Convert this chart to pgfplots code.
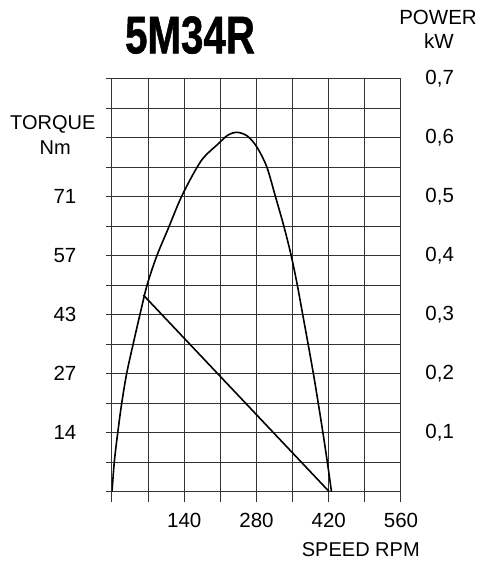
\documentclass[border=0pt]{standalone}
\usepackage{fontspec}
\setmainfont{Liberation Sans}
\newfontfamily\titlefont{Liberation Sans}[UprightFont={* Bold}, UprightFeatures={FakeBold=1.2}]
\usepackage{pgfplots}
\pgfplotsset{compat=1.18}
\definecolor{gridc}{gray}{0.2}

\pgfplotstableread{
rpm kw
0 0
4.5 0.0508
11.0 0.0990
18.8 0.1498
28.5 0.2007
41.3 0.2515
56.2 0.3080
68.0 0.3503
86.2 0.3983
109.1 0.4464
136.2 0.5029
172.5 0.5605
205.4 0.5893
224.8 0.6045
242.8 0.6091
262.2 0.6029
280.4 0.5847
299.8 0.5508
316.8 0.5000
333.3 0.4491
347.4 0.3995
359.1 0.3503
369.7 0.2995
380.0 0.2503
390.1 0.2007
399.7 0.1498
408.9 0.0990
417.6 0.0481
425.3 0
}\powerdata

\pgfplotstableread{
rpm kw
60.7 0.3334
421 0
}\torquedata

\pgfplotsset{
  base/.style={
    at={(0pt,0pt)}, anchor=south west,
    scale only axis, width=289pt, height=413pt,
    xmin=0, xmax=560, ymin=0, ymax=0.7,
    axis line style={gridc, line width=1pt},
    tick align=outside,
    tick label style={font=\fontsize{20.5}{24}\selectfont},
  }
}

\begin{document}
\begin{tikzpicture}
% grid, x ticks, curves
\begin{axis}[base,
    xtick={0,70,140,210,280,350,420,490,560},
    xticklabels={,,140,,280,,420,,560},
    ytick={0,0.05,0.1,0.15,0.2,0.25,0.3,0.35,0.4,0.45,0.5,0.55,0.6,0.65,0.7},
    yticklabels={},
    ytick style={draw=none},
    xtick pos=bottom,
    major tick length=10pt,
    xtick style={gridc, line width=1pt},
    xticklabel style={anchor=base, inner sep=0pt, yshift=-26pt},
    grid=major,
    grid style={gridc, line width=1pt},
]
\addplot[black, line width=1.6pt, smooth] table[x=rpm, y=kw] {\powerdata};
\addplot[black, line width=1.6pt] table[x=rpm, y=kw] {\torquedata};
\end{axis}
% torque ticks on the left
\begin{axis}[base,
    xtick=\empty,
    ytick={0,0.05,0.1,0.15,0.2,0.25,0.3,0.35,0.4,0.45,0.5,0.55,0.6,0.65,0.7},
    yticklabels={,,14,,27,,43,,57,,71,,,,},
    ytick pos=left,
    major tick length=6pt,
    ytick style={gridc, line width=1pt},
    yticklabel style={anchor=center, inner sep=0pt, xshift=-41pt},
    axis line style={draw=none},
]
\end{axis}
% power labels on the right
\begin{axis}[base,
    xtick=\empty,
    ytick={0.1,0.2,0.3,0.4,0.5,0.6,0.7},
    yticklabels={{0,1},{0,2},{0,3},{0,4},{0,5},{0,6},{0,7}},
    yticklabel pos=right,
    ytick style={draw=none},
    yticklabel style={anchor=west, inner sep=0pt, xshift=20pt},
    axis line style={draw=none},
]
\end{axis}
\node[anchor=base, inner sep=0pt] at (78pt,438.4pt)
  {\scalebox{0.76}[1]{\fontsize{53}{60}\titlefont 5M34R}};
\node[anchor=base, inner sep=0pt, font=\fontsize{20.5}{24}\selectfont] at (326pt,466.7pt) {POWER};
\node[anchor=base, inner sep=0pt, font=\fontsize{20.5}{24}\selectfont] at (327pt,443.4pt) {kW};
\node[anchor=base, inner sep=0pt, font=\fontsize{20}{24}\selectfont] at (-59.2pt,361.7pt) {TORQUE};
\node[anchor=base, inner sep=0pt, font=\fontsize{20}{24}\selectfont] at (-56.7pt,336.7pt) {Nm};
\node[anchor=base, inner sep=0pt, font=\fontsize{20}{24}\selectfont] at (248.8pt,-65pt) {SPEED RPM};
\pgfresetboundingbox
\path[use as bounding box] (-112pt,-74.3pt) rectangle (377pt,491.7pt);
\end{tikzpicture}
\end{document}
